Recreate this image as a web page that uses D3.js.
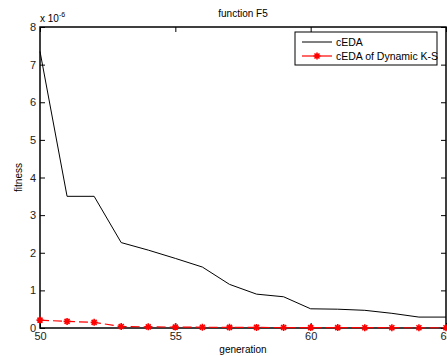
<!DOCTYPE html>
<html>
<head>
<meta charset="utf-8">
<script src="https://cdn.jsdelivr.net/npm/d3@7"></script>
<style>
  body { margin: 0; background: #fff; }
  svg { font-family: "Liberation Sans", Arial, sans-serif; }
  .axis path, .axis line { stroke: #000; }
  .axis text { font-size: 11px; fill: #222; }
</style>
</head>
<body>
<div id="chart"></div>
<script>
// values in units of 1e-6
var generations = [50, 51, 52, 53, 54, 55, 56, 57, 58, 59, 60, 61, 62, 63, 64, 65];
var ceda = [7.35, 3.5, 3.5, 2.27, 2.07, 1.85, 1.62, 1.16, 0.9, 0.83, 0.51, 0.5, 0.47, 0.39, 0.29, 0.29];
var cedaKS = [0.21, 0.175, 0.15, 0.04, 0.03, 0.025, 0.02, 0.018, 0.015, 0.012, 0.01, 0.01, 0.008, 0.008, 0.006, 0.006];
var xTicks = [50, 55, 60, 65];
var yTicks = [0, 1, 2, 3, 4, 5, 6, 7, 8];
var seriesNames = ["cEDA", "cEDA of Dynamic K-S"];

var W = 447, H = 356;
var margin = {top: 27, right: 1, bottom: 28, left: 40};
var width = W - margin.left - margin.right;
var height = H - margin.top - margin.bottom;

var svg = d3.select("#chart").append("svg")
  .attr("width", W)
  .attr("height", H);

var g = svg.append("g")
  .attr("transform", "translate(" + margin.left + "," + margin.top + ")");

var x = d3.scaleLinear().domain([50, 65]).range([0, width]);
var y = d3.scaleLinear().domain([0, 8]).range([height, 0]);

// inward ticks, matlab style
g.append("g")
  .attr("class", "axis")
  .attr("transform", "translate(0," + height + ")")
  .call(d3.axisBottom(x).tickValues(xTicks).tickSize(-5).tickSizeOuter(0).tickPadding(4))
  .call(function (a) { a.select(".domain").remove(); });
g.append("g")
  .attr("class", "axis")
  .call(d3.axisTop(x).tickValues(xTicks).tickSize(-5).tickSizeOuter(0).tickFormat(""))
  .call(function (a) { a.select(".domain").remove(); });
g.append("g")
  .attr("class", "axis")
  .call(d3.axisLeft(y).tickValues(yTicks).tickSize(-5).tickSizeOuter(0).tickPadding(4))
  .call(function (a) { a.select(".domain").remove(); });
g.append("g")
  .attr("class", "axis")
  .attr("transform", "translate(" + width + ",0)")
  .call(d3.axisRight(y).tickValues(yTicks).tickSize(-5).tickSizeOuter(0).tickFormat(""))
  .call(function (a) { a.select(".domain").remove(); });

// frame
g.append("rect")
  .attr("width", width)
  .attr("height", height)
  .attr("fill", "none")
  .attr("stroke", "#000")
  .attr("stroke-width", 1.5);

var line = d3.line()
  .x(function (d, i) { return x(generations[i]); })
  .y(function (d) { return y(d); });

g.append("path")
  .datum(ceda)
  .attr("fill", "none")
  .attr("stroke", "#000")
  .attr("stroke-width", 1)
  .attr("d", line);

g.append("path")
  .datum(cedaKS)
  .attr("fill", "none")
  .attr("stroke", "#ff0000")
  .attr("stroke-width", 1.2)
  .attr("stroke-dasharray", "9,4")
  .attr("d", line);

// asterisk marker
var starPath = "M-3.5,0L3.5,0M0,-3.5L0,3.5M-2.5,-2.5L2.5,2.5M-2.5,2.5L2.5,-2.5";
g.selectAll(".mk")
  .data(cedaKS)
  .enter().append("path")
  .attr("class", "mk")
  .attr("transform", function (d, i) { return "translate(" + x(generations[i]) + "," + y(d) + ")"; })
  .attr("d", starPath)
  .attr("stroke", "#ff0000")
  .attr("stroke-width", 1.6)
  .attr("fill", "none");

// texts
svg.append("text")
  .attr("x", margin.left + width / 2)
  .attr("y", 17)
  .attr("text-anchor", "middle")
  .style("font-size", "10px")
  .text("function F5");

var exp = svg.append("text")
  .attr("x", 40)
  .attr("y", 22)
  .style("font-size", "10px");
exp.append("tspan").text("x 10");
exp.append("tspan").attr("dy", -5).style("font-size", "7px").text("-6");

svg.append("text")
  .attr("x", margin.left + width / 2)
  .attr("y", 353)
  .attr("text-anchor", "middle")
  .style("font-size", "10px")
  .text("generation");

svg.append("text")
  .attr("transform", "translate(22," + (margin.top + height / 2) + ") rotate(-90)")
  .attr("text-anchor", "middle")
  .style("font-size", "10px")
  .text("fitness");

// legend
var lg = svg.append("g").attr("transform", "translate(295,32)");
lg.append("rect")
  .attr("width", 142)
  .attr("height", 33)
  .attr("fill", "#fff")
  .attr("stroke", "#000")
  .attr("stroke-width", 1);
lg.append("line")
  .attr("x1", 7).attr("x2", 37).attr("y1", 10).attr("y2", 10)
  .attr("stroke", "#000");
lg.append("line")
  .attr("x1", 7).attr("x2", 37).attr("y1", 24).attr("y2", 24)
  .attr("stroke", "#ff0000").attr("stroke-width", 1.2);
lg.append("path")
  .attr("transform", "translate(22,24)")
  .attr("d", starPath)
  .attr("stroke", "#ff0000")
  .attr("stroke-width", 1.6)
  .attr("fill", "none");
lg.selectAll(".lt")
  .data(seriesNames)
  .enter().append("text")
  .attr("x", 41)
  .attr("y", function (d, i) { return 14 + i * 14; })
  .style("font-size", "10.5px")
  .text(function (d) { return d; });
</script>
</body>
</html>
